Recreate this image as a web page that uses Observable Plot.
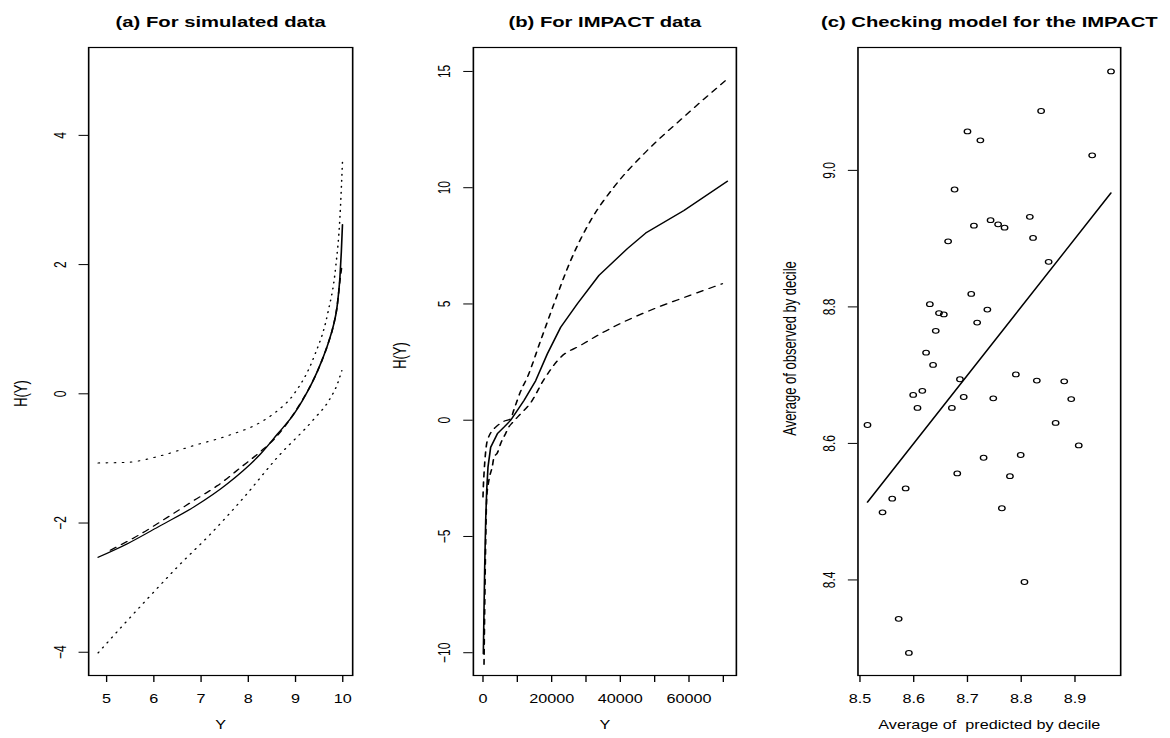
<!DOCTYPE html>
<html><head><meta charset="utf-8">
<script src="https://cdn.jsdelivr.net/npm/d3@7"></script>
<script src="https://cdn.jsdelivr.net/npm/@observablehq/plot@0.6"></script>
<style>
html,body{margin:0;padding:0;background:#fff;}
#wrap{display:flex;width:1170px;height:738px;overflow:hidden;}
</style></head><body><div id="wrap"></div>
<script>
// ---------- Panel (a): simulated data ----------
const simSolidY = [4.82, 5.44, 6.14, 6.85, 7.56, 8.26, 8.62, 8.97, 9.15, 9.35, 9.55, 9.70, 9.80, 9.88, 9.94, 9.97, 9.994];
const simSolidH = [-2.53, -2.32, -2.04, -1.75, -1.39, -0.93, -0.62, -0.31, -0.10, 0.17, 0.50, 0.80, 1.05, 1.35, 1.80, 2.20, 2.62];
const simDashY = [5.08, 5.72, 6.29, 6.85, 7.35, 7.84, 8.33, 8.55, 8.97, 9.15, 9.35, 9.55, 9.70, 9.80, 9.88, 9.94, 9.975];
const simDashH = [-2.42, -2.17, -1.91, -1.65, -1.42, -1.14, -0.85, -0.70, -0.30, -0.09, 0.17, 0.50, 0.80, 1.05, 1.35, 1.75, 1.95];
const simUpY = [4.82, 5.44, 6.14, 6.85, 7.56, 8.26, 8.55, 8.97, 9.39, 9.68, 9.85, 9.94, 9.994];
const simUpH = [-1.07, -1.06, -0.96, -0.80, -0.65, -0.44, -0.30, 0.0, 0.57, 1.24, 1.96, 2.73, 3.59];
const simLoY = [4.82, 5.30, 5.83, 6.50, 7.20, 7.91, 8.62, 9.39, 9.71, 9.89, 9.98];
const simLoH = [-4.01, -3.62, -3.20, -2.68, -2.17, -1.60, -0.98, -0.39, -0.10, 0.16, 0.36];
const aXTicks = [5, 6, 7, 8, 9, 10];
const aYTicks = [-4, -2, 0, 2, 4];

// ---------- Panel (b): IMPACT data ----------
const impSolidY = [100, 495, 786, 1077, 1456, 2242, 4193, 6115, 8066, 11940, 15347, 18754, 22627, 27490, 33780, 42050, 47380, 58530, 71170];
const impSolidH = [-10.04, -6.32, -4.31, -3.02, -2.02, -1.16, -0.58, -0.30, 0.0, 0.85, 1.70, 2.86, 4.00, 5.01, 6.23, 7.38, 8.05, 9.02, 10.28];
const impUpY = [0, 150, 300, 1080, 1450, 2740, 3700, 6000, 8000, 9000, 10980, 12930, 16800, 20680, 25540, 31360, 38150, 46880, 58530, 70680];
const impUpH = [-3.3, -2.7, -2.3, -1.0, -0.8, -0.44, -0.30, -0.05, 0.05, 0.45, 1.25, 1.85, 3.43, 5.01, 6.87, 8.59, 10.03, 11.46, 13.05, 14.62];
const impLoY = [300, 700, 1100, 1700, 2700, 3200, 4200, 5150, 6600, 7500, 8600, 10980, 13890, 17760, 22630, 28450, 34270, 42050, 50790, 60480, 69710];
const impLoH = [-10.5, -6.0, -3.3, -2.6, -2.0, -1.6, -1.4, -1.0, -0.57, -0.30, -0.10, 0.28, 0.75, 1.75, 2.71, 3.22, 3.72, 4.30, 4.85, 5.38, 5.87];
const bXTicks = [0, 10000, 20000, 30000, 40000, 50000, 60000, 70000];
const bYTicks = [-10, -5, 0, 5, 10, 15];

// ---------- Panel (c): model check ----------
const predicted = [8.967, 8.837, 8.700, 8.724, 8.932, 8.676, 8.816, 8.743, 8.712, 8.757, 8.769, 8.822, 8.664, 8.851, 8.707, 8.630,
  8.737, 8.647, 8.656, 8.718, 8.641, 8.623, 8.636, 8.686, 8.790, 8.829, 8.880, 8.616, 8.599, 8.693, 8.748, 8.893,
  8.607, 8.671, 8.864, 8.514, 8.907, 8.799, 8.730, 8.681, 8.779, 8.585, 8.560, 8.764, 8.542, 8.806, 8.572, 8.591];
const observed = [9.145, 9.087, 9.057, 9.044, 9.022, 8.972, 8.932, 8.927, 8.919, 8.921, 8.916, 8.901, 8.896, 8.866, 8.819, 8.804,
  8.796, 8.791, 8.789, 8.777, 8.765, 8.733, 8.715, 8.694, 8.701, 8.692, 8.691, 8.677, 8.671, 8.668, 8.666, 8.665,
  8.652, 8.652, 8.630, 8.627, 8.597, 8.583, 8.579, 8.556, 8.552, 8.534, 8.519, 8.505, 8.499, 8.397, 8.343, 8.293];
const refLine = [8.514, 8.967];
const cXTicks = [8.5, 8.6, 8.7, 8.8, 8.9];
const cYTicks = [8.4, 8.6, 8.8, 9.0];

// ---------- rendering ----------
const SX = 1.35;      // horizontal stretch of the reference picture
const HEIGHT = 738;
const FONT = "'Liberation Sans', Arial, Helvetica, sans-serif";
const minus = d => d < 0 ? "\u2212" + Math.abs(d) : String(d);

function panel(o) {
  const w = o.w / SX;
  const svg = Plot.plot({
    width: w, height: HEIGHT,
    marginLeft: o.mL / SX, marginRight: o.mR / SX, marginTop: 47, marginBottom: 63,
    style: {fontFamily: FONT, fontSize: "12px", background: "white", overflow: "visible", color: "black"},
    x: {domain: o.xDomain, ticks: o.xTicks, tickFormat: o.xFmt, tickSize: 7, tickPadding: 12, label: null},
    y: {domain: o.yDomain, ticks: o.yTicks, tickFormat: () => "", tickSize: 7, label: null},
    marks: [
      Plot.frame({stroke: "black", strokeWidth: 1.2}),
      ...o.marks,
      Plot.text(o.yTicks, {y: d => d, text: o.yFmt, frameAnchor: "left", dx: -21, rotate: -90,
        textAnchor: "middle", lineAnchor: "middle", fontSize: 12, fill: "black"}),
      Plot.text([o.title], {text: d => d, frameAnchor: "top", dy: -31, fontWeight: "bold", fontSize: 15, fill: "black"}),
      Plot.text([o.xLabel], {text: d => d, frameAnchor: "bottom", dy: 53, fontSize: 12, fill: "black"}),
      Plot.text([o.yLabel], {text: d => d, frameAnchor: "left", dx: -o.yLabOff, dy: o.yLabDy || 0, rotate: -90,
        textAnchor: "middle", lineAnchor: "middle", fontSize: 13, fill: "black"})
    ]
  });
  svg.setAttribute("viewBox", `0 0 ${w} ${HEIGHT}`);
  svg.setAttribute("preserveAspectRatio", "none");
  svg.setAttribute("width", o.w);
  svg.setAttribute("height", HEIGHT);
  svg.style.width = o.w + "px";
  svg.style.height = HEIGHT + "px";
  svg.style.maxWidth = "none";
  svg.style.flex = "none";
  document.getElementById("wrap").appendChild(svg);
}

const lw = 1.2;
panel({
  w: 390, mL: 88, mR: 38,
  xDomain: [4.62, 10.21], yDomain: [-4.36, 5.36],
  xTicks: aXTicks, xFmt: d => String(d), yTicks: aYTicks, yFmt: minus,
  title: "(a) For simulated data", xLabel: "Y", yLabel: "H(Y)", yLabOff: 50, yLabDy: 32,
  marks: [
    Plot.line(simUpH, {x: simUpY, y: simUpH, stroke: "black", strokeWidth: 1.1, strokeDasharray: "1,5", curve: "monotone-x"}),
    Plot.line(simLoH, {x: simLoY, y: simLoH, stroke: "black", strokeWidth: 1.1, strokeDasharray: "1,5", curve: "monotone-x"}),
    Plot.line(simDashH, {x: simDashY, y: simDashH, stroke: "black", strokeWidth: lw, strokeDasharray: "5,5", curve: "monotone-x"}),
    Plot.line(simSolidH, {x: simSolidY, y: simSolidH, stroke: "black", strokeWidth: lw, curve: "monotone-x"})
  ]
});

panel({
  w: 390, mL: 82.7, mR: 44.3,
  xDomain: [-2800, 73800], yDomain: [-10.98, 16.03],
  xTicks: bXTicks, xFmt: d => (d % 20000 === 0 ? String(d) : ""), yTicks: bYTicks, yFmt: minus,
  title: "(b) For IMPACT data", xLabel: "Y", yLabel: "H(Y)", yLabOff: 54, yLabDy: -6,
  marks: [
    Plot.line(impUpH, {x: impUpY, y: impUpH, stroke: "black", strokeWidth: lw, strokeDasharray: "5,5", curve: "monotone-x"}),
    Plot.line(impLoH, {x: impLoY, y: impLoH, stroke: "black", strokeWidth: lw, strokeDasharray: "5,5", curve: "monotone-x"}),
    Plot.line(impSolidH, {x: impSolidY, y: impSolidH, stroke: "black", strokeWidth: lw})
  ]
});

panel({
  w: 390, mL: 77.3, mR: 50,
  xDomain: [8.4963, 8.985], yDomain: [8.260, 9.180],
  xTicks: cXTicks, xFmt: d3.format(".1f"), yTicks: cYTicks, yFmt: d3.format(".1f"),
  title: "(c) Checking model for the IMPACT", xLabel: "Average of  predicted by decile",
  yLabel: "Average of observed by decile", yLabOff: 50, yLabDy: -13,
  marks: [
    Plot.line(refLine, {x: d => d, y: d => d, stroke: "black", strokeWidth: lw}),
    Plot.dot(observed, {x: predicted, y: observed, r: 2.4, stroke: "black", strokeWidth: 1, fill: "none"})
  ]
});
</script></body></html>
